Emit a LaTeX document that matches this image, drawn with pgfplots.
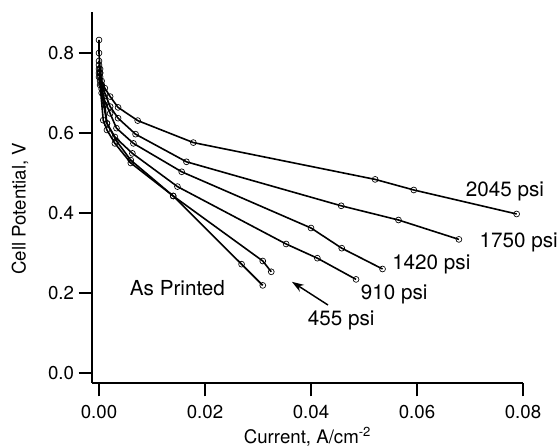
\documentclass[border=0pt]{standalone}
\usepackage{fontspec}
\setmainfont{TeX Gyre Heros}
\usepackage{pgfplots}
\pgfplotsset{compat=1.18}
\usetikzlibrary{arrows.meta}

\begin{document}
\begin{tikzpicture}
\useasboundingbox (0pt,0pt) rectangle (420pt,336pt);
\begin{axis}[
    at={(69pt,48.75pt)}, anchor=south west,
    scale only axis, width=323.25pt, height=278.25pt,
    xmin=-0.00132, xmax=0.08, ymin=-0.025, ymax=0.9025,
    axis x line=bottom, axis y line=left,
    axis line style={-, line width=0.9pt},
    tick align=outside, major tick length=10pt,
    tick style={black, line width=0.9pt},
    xtick={0,0.02,0.04,0.06,0.08},
    ytick={0,0.2,0.4,0.6,0.8},
    scaled x ticks=false, scaled y ticks=false,
    xticklabel style={yshift=-3.5pt, /pgf/number format/.cd, fixed, fixed zerofill, precision=2},
    yticklabel style={/pgf/number format/.cd, fixed, fixed zerofill, precision=1},
    /pgf/number format/assume math mode=true,
    ticklabel style={font=\fontsize{14}{16}\selectfont},
    label style={font=\fontsize{14}{16}\selectfont},
    xlabel={Current, A/cm\textsuperscript{-2}},
    xlabel style={at={(axis description cs:0.5,0)}, anchor=center, yshift=-40pt},
    ylabel={Cell Potential, V},
    ylabel style={at={(axis description cs:-0.167,0.47)}, anchor=center},
    curve/.style={black, line width=1.2pt, mark=o, mark size=2.2pt,
        mark options={line width=0.5pt, solid, fill=none}},
    clip=false,
]
% 2045 psi
\addplot[curve] coordinates {
    (0,0.77) (0.0002,0.75) (0.0005,0.73) (0.0011,0.712) (0.0021,0.691)
    (0.0036,0.664) (0.0073,0.631) (0.0178,0.576) (0.0521,0.484)
    (0.0594,0.4575) (0.0788,0.3975)
};
% 1750 psi
\addplot[curve] coordinates {
    (0,0.76) (0.0002,0.74) (0.0005,0.72) (0.0011,0.70) (0.0021,0.666)
    (0.0036,0.637) (0.0069,0.597) (0.0165,0.528) (0.0457,0.418)
    (0.0565,0.3825) (0.0679,0.334)
};
% 1420 psi
\addplot[curve] coordinates {
    (0,0.75) (0.0002,0.73) (0.0005,0.71) (0.0011,0.68) (0.0021,0.649)
    (0.0033,0.612) (0.0065,0.574) (0.0156,0.503) (0.0400,0.3625)
    (0.0458,0.312) (0.0535,0.26)
};
% 910 psi
\addplot[curve] coordinates {
    (0,0.78) (0.0002,0.75) (0.0005,0.72) (0.0011,0.67) (0.0015,0.624)
    (0.0030,0.590) (0.0063,0.549) (0.0148,0.466) (0.0353,0.3225)
    (0.0412,0.287) (0.0485,0.234)
};
% 455 psi
\addplot[curve] coordinates {
    (0,0.8325) (0,0.80) (0.0002,0.76) (0.0005,0.70) (0.0015,0.624)
    (0.0033,0.58) (0.0060,0.532) (0.0140,0.4425) (0.0309,0.28)
    (0.0325,0.253)
};
% As Printed
\addplot[curve] coordinates {
    (0,0.74) (0.0002,0.72) (0.0008,0.632) (0.0015,0.6075) (0.0030,0.574)
    (0.0060,0.525) (0.0140,0.4425) (0.0269,0.272) (0.0309,0.219)
};

\begin{scope}[font=\fontsize{15.5}{17}\selectfont]
\node at (axis cs:0.0766,0.455) {2045 psi};
\node at (axis cs:0.0792,0.326) {1750 psi};
\node at (axis cs:0.0627,0.2725) {1420 psi};
\node at (axis cs:0.0557,0.1975) {910 psi};
\node at (axis cs:0.0457,0.1325) {455 psi};
\node at (axis cs:0.0148,0.2125) {As Printed};
\end{scope}
\draw[line width=1.1pt, -{Stealth[length=9pt, width=6pt]}]
    (axis cs:0.0432,0.17) -- (axis cs:0.0364,0.228);
\end{axis}
\end{tikzpicture}
\end{document}
